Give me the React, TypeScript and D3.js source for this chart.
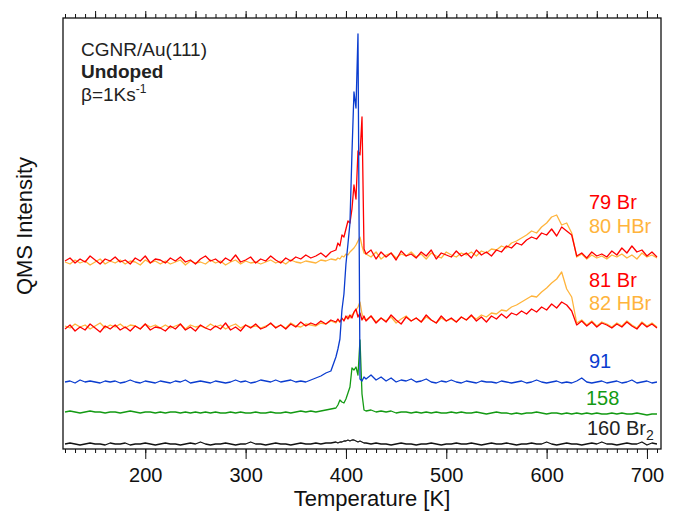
import React, { useEffect, useRef } from 'react';
import * as d3 from 'd3';

// temperature grid [K]: 5 K steps, 2 K steps through the sharp ~410 K peak
const tempsLow = d3.range(120, 391, 5);
const tempsPeak = d3.range(392, 419, 2);
const tempsHigh = d3.range(420, 711, 5);
const temps = [...tempsLow, ...tempsPeak, ...tempsHigh];

// QMS signals (arb. units, traces already offset)
const mass79 = [
  188, 191, 186, 190, 187, 193, 189, 185, 190, 188,
  192, 187, 189, 185, 191, 188, 193, 186, 190, 189,
  186, 191, 188, 192, 187, 189, 185, 190, 193, 188,
  190, 186, 191, 188, 194, 187, 189, 192, 186, 190,
  188, 193, 189, 186, 191, 188, 192, 190, 194, 191,
  193, 196, 192, 197, 199,
  206, 203, 214, 212, 220, 228, 226, 240, 264, 250, 298, 294, 332, 200,
  195, 199, 190, 197, 192, 196, 189, 198, 193, 195,
  191, 197, 193, 199, 190, 196, 194, 192, 198, 193,
  196, 191, 199, 194, 197, 193, 199, 197, 203, 201,
  206, 204, 209, 212, 210, 216, 214, 220, 213, 222,
  218, 214, 193, 196, 191, 197, 193, 195, 192, 198,
  194, 201, 196, 203, 197, 199, 193, 197, 192,
];

const mass80 = [
  187, 185, 189, 186, 188, 184, 187, 190, 185, 188,
  186, 189, 185, 188, 187, 184, 189, 186, 188, 185,
  188, 185, 187, 189, 184, 188, 186, 187, 185, 189,
  186, 188, 184, 187, 189, 185, 188, 186, 187, 185,
  187, 189, 186, 188, 185, 189, 187, 186, 188, 187,
  186, 189, 188, 190, 189,
  191, 190, 193, 192, 195, 194, 197, 199, 201, 204, 208, 212, 203, 196,
  195, 192, 197, 190, 194, 196, 191, 195, 193, 197,
  192, 195, 190, 196, 193, 191, 197, 194, 192, 196,
  194, 197, 193, 198, 196, 200, 199, 203, 201, 206,
  208, 211, 214, 218, 216, 222, 226, 232, 234, 224,
  226, 216, 192, 195, 190, 194, 191, 193, 190, 194,
  192, 195, 191, 194, 190, 196, 192, 194, 191,
];

const mass81 = [
  120, 124, 118, 122, 119, 125, 121, 117, 123, 120,
  124, 119, 122, 118, 123, 120, 125, 119, 122, 121,
  118, 123, 120, 125, 119, 122, 118, 124, 121, 119,
  123, 120, 126, 119, 122, 118, 124, 121, 125, 120,
  122, 126, 121, 124, 120, 125, 122, 127, 123, 126,
  124, 128, 125, 129, 127,
  130, 127, 131, 128, 133, 130, 134, 131, 137, 140, 132, 136, 129, 133,
  128, 133, 126, 131, 127, 134, 129, 125, 132, 128,
  131, 127, 134, 129, 126, 133, 128, 131, 127, 132,
  129, 134, 128, 132, 127, 133, 130, 135, 131, 136,
  134, 138, 135, 140, 137, 142, 139, 145, 141, 147,
  144, 138, 124, 128, 123, 127, 122, 126, 124, 121,
  125, 122, 127, 123, 120, 126, 122, 125, 121,
];

const mass82 = [
  123, 121, 125, 122, 124, 120, 123, 126, 121, 124,
  122, 125, 121, 124, 123, 120, 125, 122, 124, 121,
  124, 121, 123, 125, 120, 124, 122, 123, 121, 125,
  122, 124, 120, 123, 125, 121, 124, 122, 123, 121,
  123, 125, 122, 124, 121, 126, 123, 122, 125, 124,
  123, 126, 125, 128, 126,
  129, 127, 130, 129, 131, 133, 131, 134, 136, 139, 142, 147, 135, 130,
  129, 133, 127, 131, 128, 132, 126, 130, 133, 128,
  131, 127, 132, 129, 126, 131, 128, 130, 127, 132,
  129, 133, 130, 134, 132, 136, 135, 139, 138, 142,
  144, 147, 150, 153, 152, 157, 161, 166, 170, 177,
  160, 152, 126, 129, 124, 128, 123, 127, 125, 122,
  126, 123, 128, 124, 121, 127, 123, 126, 122,
];

const mass91 = [
  67, 68, 66, 69, 67, 68, 67, 66, 68, 67,
  68, 66, 67, 69, 67, 66, 68, 67, 66, 68,
  67, 66, 68, 67, 69, 66, 67, 68, 67, 66,
  68, 67, 66, 67, 69, 67, 68, 66, 67, 69,
  68, 67, 69, 67, 68, 69, 67, 68, 67, 69,
  71, 73, 76, 78, 92,
  100, 110, 139, 155, 185, 205, 226, 296, 357, 341, 415, 70, 68, 72,
  70, 74, 69, 72, 68, 71, 67, 69, 68, 70,
  67, 68, 70, 67, 66, 68, 67, 69, 67, 66,
  68, 67, 66, 68, 67, 67, 66, 68, 67, 66,
  67, 68, 66, 67, 69, 67, 66, 67, 68, 66,
  67, 66, 68, 71, 67, 66, 67, 68, 66, 67,
  68, 66, 67, 69, 66, 67, 68, 66, 67,
];

const mass158 = [
  37, 38, 37, 36, 37, 38, 37, 37, 36, 37,
  37, 36, 37, 38, 37, 36, 37, 37, 36, 37,
  36, 37, 37, 36, 37, 36, 37, 36, 37, 36,
  37, 36, 36, 37, 36, 37, 36, 36, 37, 36,
  36, 37, 36, 36, 37, 36, 37, 38, 37, 38,
  37, 38, 39, 40, 41,
  44, 49, 47, 46, 50, 56, 62, 81, 79, 82, 74, 109, 55, 39,
  38, 39, 37, 38, 37, 38, 36, 37, 37, 36,
  37, 36, 37, 36, 37, 36, 36, 37, 36, 37,
  36, 36, 37, 36, 35, 36, 37, 36, 36, 35,
  36, 35, 36, 36, 37, 36, 35, 36, 36, 35,
  36, 35, 36, 35, 36, 35, 36, 35, 35, 36,
  35, 36, 35, 35, 36, 35, 34, 35, 35,
];

const mass160 = [
  5, 6, 5, 4, 5, 6, 5, 5, 4, 6,
  5, 5, 6, 4, 5, 5, 6, 5, 4, 5,
  6, 5, 5, 4, 5, 6, 5, 7, 5, 4,
  5, 5, 6, 5, 4, 5, 5, 7, 5, 5,
  4, 5, 6, 5, 5, 4, 5, 6, 5, 5,
  6, 5, 6, 6, 7,
  6, 7, 7, 8, 8, 9, 8, 9, 9, 8, 7, 8, 7, 6,
  6, 5, 6, 5, 5, 4, 5, 6, 5, 5,
  4, 5, 5, 6, 5, 4, 5, 5, 6, 5,
  5, 6, 5, 4, 5, 6, 5, 5, 6, 5,
  4, 5, 5, 6, 5, 5, 7, 5, 4, 5,
  6, 5, 5, 4, 5, 6, 5, 7, 5, 5,
  4, 5, 6, 5, 5, 7, 4, 6, 5,
];

const majorTicks = [200, 300, 400, 500, 600, 700];

const RED = '#ff0000';
const ORANGE = '#ffb43c';
const BLUE = '#0a3ccf';
const GREEN = '#139a13';
const BLACK = '#111111';

export default function App() {
  const ref = useRef<SVGSVGElement>(null);

  useEffect(() => {
    const svg = d3.select(ref.current);
    svg.selectAll('*').remove();

    const width = 676, height = 513;
    const margin = { top: 18, right: 15, bottom: 64, left: 63 };

    const x = d3.scaleLinear().domain([118, 714]).range([margin.left, width - margin.right]);
    const y = d3.scaleLinear().domain([0, 431]).range([height - margin.bottom, margin.top]);

    svg.append('clipPath').attr('id', 'plot-clip')
      .append('rect')
      .attr('x', margin.left).attr('y', margin.top)
      .attr('width', width - margin.left - margin.right)
      .attr('height', height - margin.top - margin.bottom);

    const line = d3.line<number>()
      .x((_, i) => x(temps[i]))
      .y(d => y(d));

    const traces = [
      { values: mass80, color: ORANGE },
      { values: mass79, color: RED },
      { values: mass82, color: ORANGE },
      { values: mass81, color: RED },
      { values: mass160, color: BLACK },
      { values: mass158, color: GREEN },
      { values: mass91, color: BLUE },
    ];

    const plot = svg.append('g').attr('clip-path', 'url(#plot-clip)');
    traces.forEach(t => {
      plot.append('path')
        .attr('d', line(t.values))
        .attr('fill', 'none')
        .attr('stroke', t.color)
        .attr('stroke-width', 1.3)
        .attr('stroke-linejoin', 'round');
    });

    // bottom axis: minor + major ticks
    const bottom = height - margin.bottom;
    svg.append('g')
      .attr('transform', `translate(0,${bottom})`)
      .call(d3.axisBottom(x).tickValues(d3.range(120, 711, 10)).tickSize(4).tickFormat(() => ''))
      .call(g => g.select('.domain').remove());
    svg.append('g')
      .attr('transform', `translate(0,${bottom})`)
      .call(d3.axisBottom(x).tickValues(majorTicks).tickSize(10).tickPadding(9).tickFormat(d3.format('d')))
      .call(g => g.select('.domain').remove())
      .call(g => g.selectAll('text')
        .attr('fill', '#111')
        .style('font-size', '20px')
        .style('font-family', '"Liberation Sans", Arial, sans-serif'));

    // top axis
    svg.append('g')
      .attr('transform', `translate(0,${margin.top})`)
      .call(d3.axisTop(x).tickValues(d3.range(120, 711, 10)).tickSize(4).tickFormat(() => ''))
      .call(g => g.select('.domain').remove());
    svg.append('g')
      .attr('transform', `translate(0,${margin.top})`)
      .call(d3.axisTop(x).tickValues(d3.range(150, 711, 50)).tickSize(7).tickFormat(() => ''))
      .call(g => g.select('.domain').remove());

    svg.selectAll('.tick line').attr('stroke', '#111').attr('stroke-width', 1);

    // frame
    svg.append('rect')
      .attr('x', margin.left).attr('y', margin.top)
      .attr('width', width - margin.left - margin.right)
      .attr('height', height - margin.top - margin.bottom)
      .attr('fill', 'none')
      .attr('stroke', '#111')
      .attr('stroke-width', 1.3);

    // axis titles
    svg.append('text')
      .attr('x', 372).attr('y', 506)
      .attr('text-anchor', 'middle')
      .attr('fill', '#111')
      .style('font-size', '22px')
      .text('Temperature [K]');
    svg.append('text')
      .attr('transform', 'translate(32,226) rotate(-90)')
      .attr('text-anchor', 'middle')
      .attr('fill', '#111')
      .style('font-size', '22px')
      .text('QMS Intensity');

    // sample annotation
    const note = svg.append('g').attr('fill', '#222').style('font-size', '19px');
    note.append('text').attr('x', 81).attr('y', 56).text('CGNR/Au(111)');
    note.append('text').attr('x', 81).attr('y', 78).style('font-weight', 'bold').text('Undoped');
    const beta = note.append('text').attr('x', 81).attr('y', 101);
    beta.append('tspan').text('β=1Ks');
    beta.append('tspan').attr('dy', -8).style('font-size', '12px').text('-1');

    // trace labels
    const labelX = 589;
    const lab = svg.append('g').style('font-size', '20px');
    lab.append('text').attr('x', labelX).attr('y', y(240)).attr('fill', RED).text('79 Br');
    lab.append('text').attr('x', labelX).attr('y', y(216)).attr('fill', ORANGE).text('80 HBr');
    lab.append('text').attr('x', labelX).attr('y', y(162)).attr('fill', RED).text('81 Br');
    lab.append('text').attr('x', labelX).attr('y', y(139)).attr('fill', ORANGE).text('82 HBr');
    lab.append('text').attr('x', labelX).attr('y', y(81)).attr('fill', BLUE).text('91');
    lab.append('text').attr('x', labelX - 3).attr('y', y(44)).attr('fill', GREEN).text('158');
    const br2 = lab.append('text').attr('x', labelX - 2).attr('y', y(14)).attr('fill', '#222');
    br2.append('tspan').text('160 Br');
    br2.append('tspan').attr('dy', 5).style('font-size', '14px').text('2');
  }, []);

  return (
    <svg
      ref={ref}
      width={676}
      height={513}
      style={{ position: 'absolute', left: 0, top: 0, fontFamily: '"Liberation Sans", Arial, sans-serif', background: '#fff' }}
    />
  );
}
